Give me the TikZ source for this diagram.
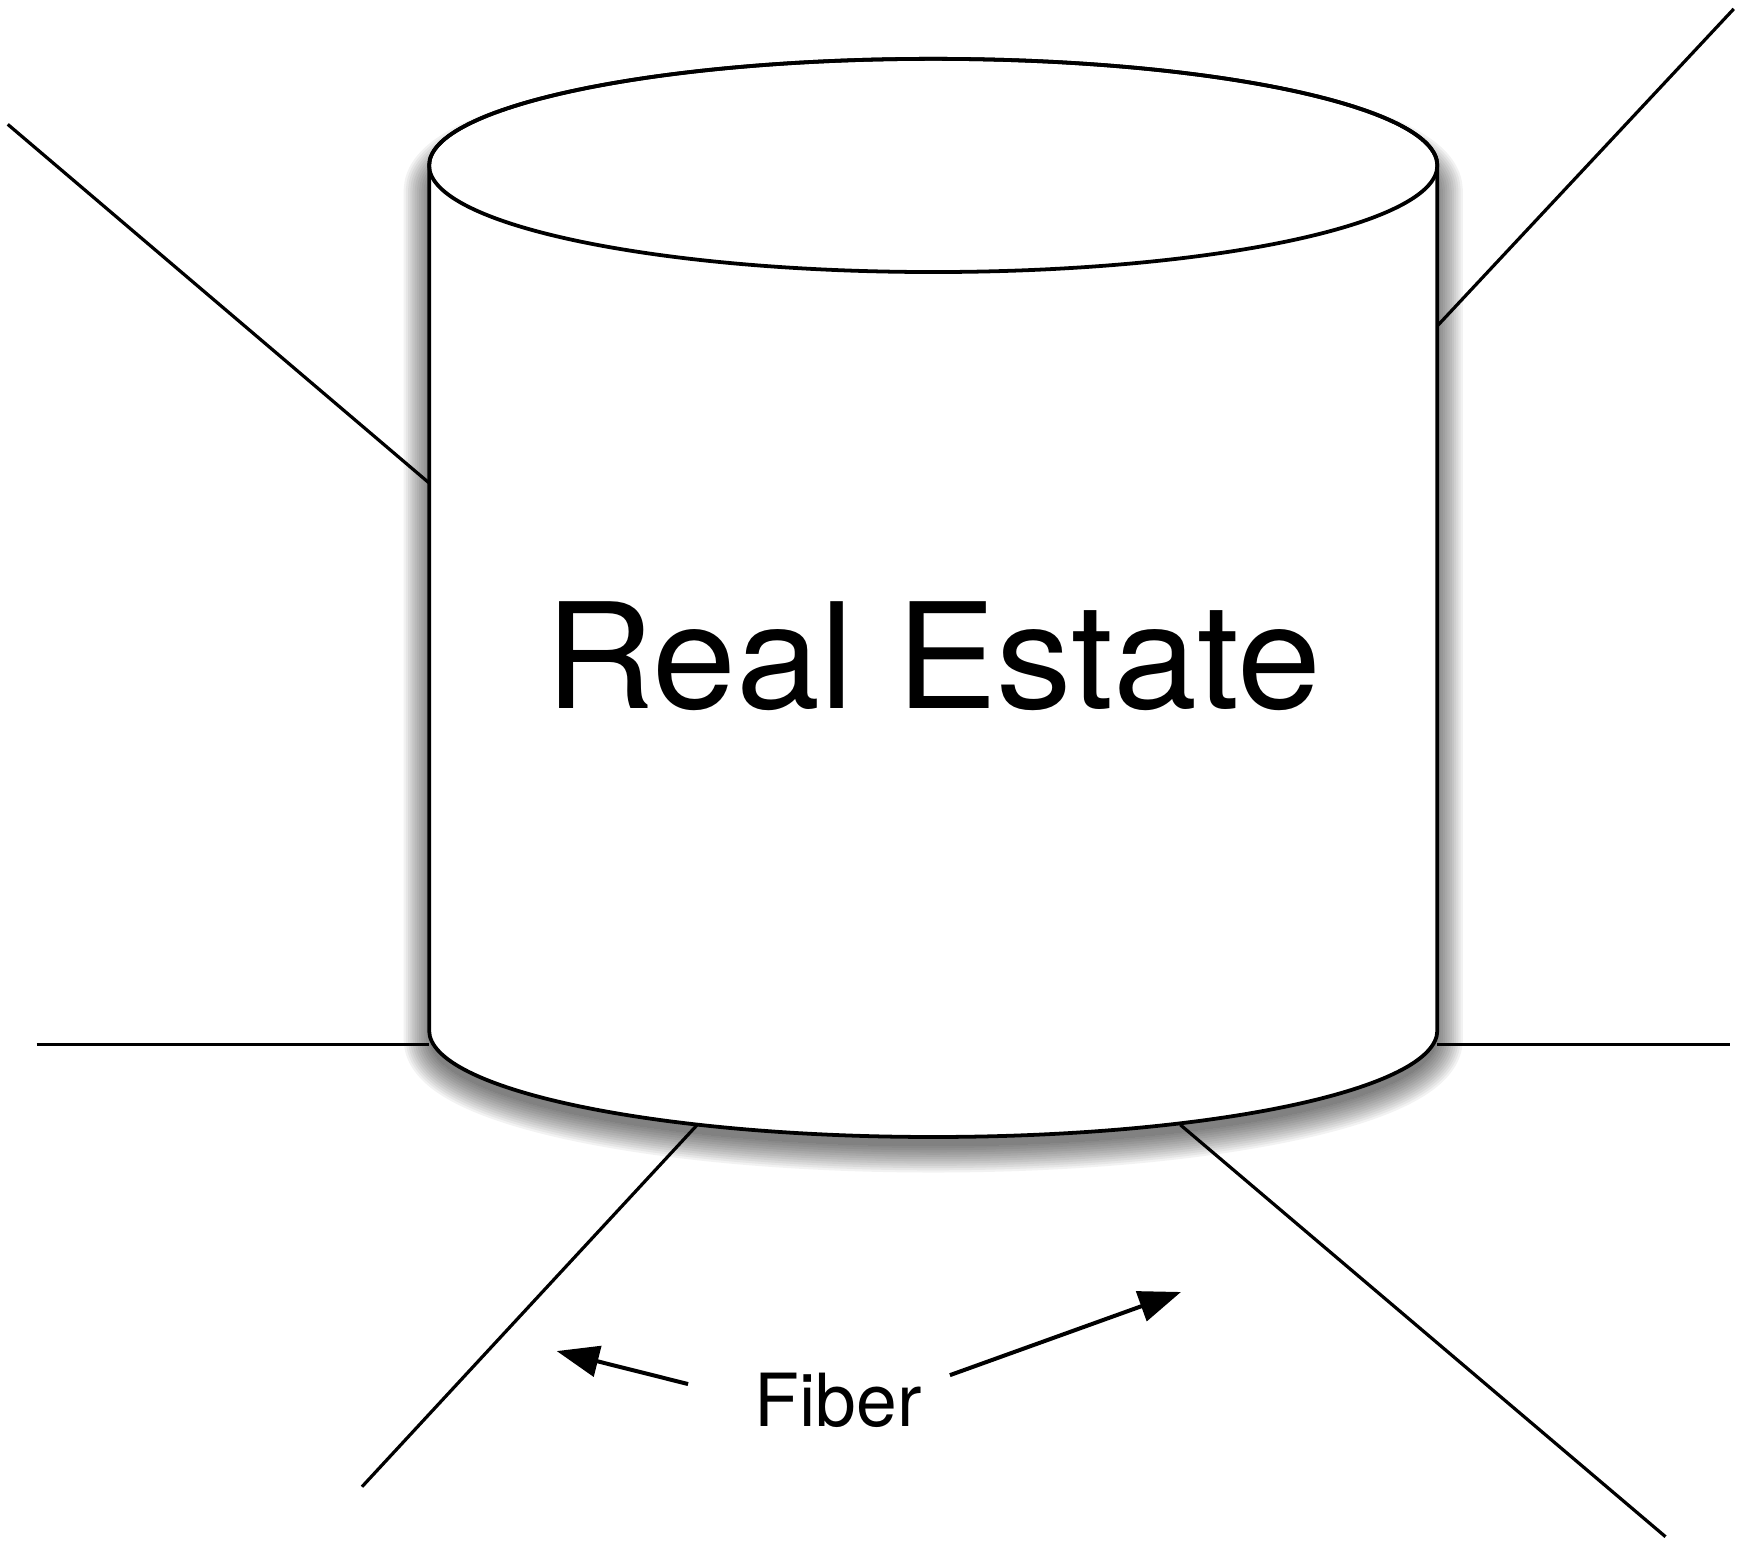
\documentclass[tikz,border=0pt]{standalone}
\usepackage{fontspec}
\setmainfont{TeX Gyre Heros}
\usetikzlibrary{arrows.meta}
\tikzset{
  cylsil/.style={insert path={(386.5,149) -- (386.5,928)
      arc[start angle=180,end angle=360,x radius=227pt,y radius=48pt]
      -- (1294.5,149)
      arc[start angle=0,end angle=180,x radius=227pt,y radius=48pt] -- cycle}},
  shadowsil/.style={insert path={(387.5,172) -- (387.5,936)
      arc[start angle=180,end angle=360,x radius=226.5pt,y radius=48pt]
      -- (1293.5,172)
      arc[start angle=0,end angle=180,x radius=226.5pt,y radius=48pt] -- cycle}},
  ray/.style={draw=black,line width=1.45pt},
  outline/.style={draw=black,line width=1.7pt,line join=round},
  fiberarrow/.style={draw=black,line width=1.8pt,-{Triangle[length=19pt,width=14pt]}},
}
\begin{document}
\begin{tikzpicture}[x=0.5pt,y=-0.5pt]
\useasboundingbox (0,0) rectangle (1568,1391.5);
% blurred shadow
\foreach \k in {0,...,12}{
  \begin{scope}[transparency group,opacity=0.05]
    \filldraw[black,line width=2*\k pt,line join=round,shadowsil];
  \end{scope}
}
% named points
\coordinate (ulA) at (7,112);
\coordinate (ulB) at (386.5,435);
\coordinate (urA) at (1561.5,8);
\coordinate (urB) at (1294.5,293.5);
\coordinate (hlA) at (33,941);
\coordinate (hlB) at (386.5,941);
\coordinate (hrA) at (1294.5,941);
\coordinate (hrB) at (1558,941);
\coordinate (llA) at (628,1013);
\coordinate (llB) at (326,1339);
\coordinate (lrA) at (1063,1013);
\coordinate (lrB) at (1500,1384);
% rays
\draw[ray] (ulA) -- (ulB);
\draw[ray] (urA) -- (urB);
\draw[ray] (hlA) -- (hlB);
\draw[ray] (hrA) -- (hrB);
\draw[ray] (llA) -- (llB);
\draw[ray] (lrA) -- (lrB);
% cylinder
\path[fill=white,outline,cylsil];
\draw[outline] (840.5,149) ellipse [x radius=227pt,y radius=48pt];
% texts
\node[anchor=base,inner sep=0pt,font=\fontsize{66}{70}\selectfont] (re) at (840.5,638) {\scalebox{1.03}[1]{Real Estate}};
\node[anchor=base,inner sep=0pt,font=\fontsize{33}{36}\selectfont] (fiber) at (755,1284.5) {Fiber};
% arrows
\coordinate (fl) at (619.7,1246.5);
\coordinate (fr) at (855.5,1238.5);
\coordinate (tl) at (501.4,1216.8);
\coordinate (tr) at (1063.6,1163.6);
\draw[fiberarrow] (fl) -- (tl);
\draw[fiberarrow] (fr) -- (tr);
\end{tikzpicture}
\end{document}
